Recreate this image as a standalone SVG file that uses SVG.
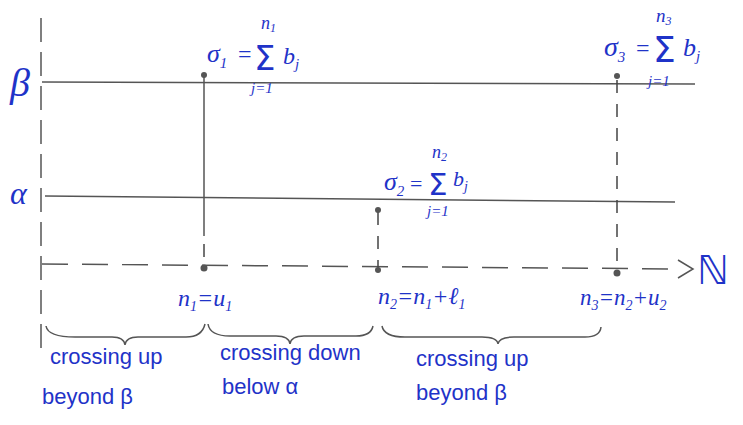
<svg xmlns="http://www.w3.org/2000/svg" width="743" height="425" viewBox="0 0 743 425">
<style>
.ink{fill:#1f33c8;font-family:"Liberation Serif","DejaVu Serif",serif;font-style:italic}
.sig{fill:#1f33c8;font-family:"DejaVu Sans",sans-serif;font-style:normal}
.txt{fill:#1f33c8;font-family:"Liberation Sans","DejaVu Sans",sans-serif;font-size:22px}
.ln{stroke:#555;stroke-width:1.5;fill:none}
.dash{stroke:#444;stroke-width:1.5;fill:none;stroke-dasharray:13 11}
.brace{stroke:#555;stroke-width:1.5;fill:none}
.dot{fill:#555}
</style>
<rect width="743" height="425" fill="#fff"/>
<g id="connectors">
  <line class="ln" x1="41" y1="18" x2="41" y2="355" stroke-dasharray="24 10"/>
  <line class="ln" x1="42" y1="82" x2="695" y2="84"/>
  <line class="ln" x1="45" y1="196" x2="675" y2="202"/>
  <line class="ln" x1="42" y1="264" x2="682" y2="269" stroke-dasharray="26 14"/>
  <polyline class="ln" points="678,260 693,269 678,278"/>
  <line class="ln" x1="204" y1="75" x2="204" y2="236"/>
  <line class="dash" x1="204" y1="244" x2="204" y2="268"/>
  <line class="dash" x1="378" y1="212" x2="378" y2="270"/>
  <line class="dash" x1="617" y1="80" x2="617" y2="273"/>
  <path class="brace" d="M46,326 Q48,338 80,337 L112,337 Q124,337 125,345 Q126,337 138,337 L186,337 Q202,337 205,324"/>
  <path class="brace" d="M208,324 Q210,336 230,336 L276,336 Q289,336 290,344 Q291,336 304,336 L356,336 Q371,336 373,326"/>
  <path class="brace" d="M382,326 Q384,337 405,337 L482,337 Q497,337 498,344 Q499,337 514,337 L585,337 Q600,337 601,327"/>
</g>
<g id="pts">
  <circle class="dot" cx="204" cy="75" r="3"/>
  <circle class="dot" cx="204" cy="268" r="3.5"/>
  <circle class="dot" cx="378" cy="210" r="3"/>
  <circle class="dot" cx="378" cy="270" r="3"/>
  <circle class="dot" cx="617" cy="76" r="3"/>
  <circle class="dot" cx="617" cy="273" r="3.5"/>
</g>
<g id="beta-label"><text class="ink" x="10" y="96" font-size="40">β</text></g>
<g id="alpha-label"><text class="ink" x="10" y="204" font-size="32">α</text></g>
<g id="N-label"><text x="697" y="284" font-size="40" fill="#1f33c8" font-family="DejaVu Sans,sans-serif">ℕ</text></g>
<g id="sigma1" class="ink">
  <text x="207" y="62" font-size="26">σ<tspan font-size="15" dy="6">1</tspan></text>
  <text x="238" y="62" font-size="24" font-style="normal">=</text>
  <text class="sig" x="254" y="70" font-size="34">Σ</text>
  <text x="261" y="29" font-size="18">n<tspan font-size="12" dy="3">1</tspan></text>
  <text x="283" y="64" font-size="24">b<tspan font-size="15" dy="5">j</tspan></text>
  <text x="251" y="93" font-size="15">j=1</text>
</g>
<g id="sigma2" class="ink">
  <text x="384" y="190" font-size="26">σ<tspan font-size="15" dy="6">2</tspan></text>
  <text x="410" y="191" font-size="22" font-style="normal">=</text>
  <text class="sig" x="428" y="195" font-size="31">Σ</text>
  <text x="432" y="158" font-size="18">n<tspan font-size="12" dy="3">2</tspan></text>
  <text x="453" y="186" font-size="22">b<tspan font-size="14" dy="5">j</tspan></text>
  <text x="427" y="216" font-size="15">j=1</text>
</g>
<g id="sigma3" class="ink">
  <text x="604" y="56" font-size="28">σ<tspan font-size="15" dy="6">3</tspan></text>
  <text x="636" y="56" font-size="24" font-style="normal">=</text>
  <text class="sig" x="653" y="62" font-size="36">Σ</text>
  <text x="656" y="22" font-size="19">n<tspan font-size="12" dy="3">3</tspan></text>
  <text x="683" y="56" font-size="26">b<tspan font-size="15" dy="5">j</tspan></text>
  <text x="648" y="86" font-size="15">j=1</text>
</g>
<g id="n1" class="ink"><text x="178" y="306" font-size="24">n<tspan font-size="14" dy="5">1</tspan><tspan dy="-5">=u</tspan><tspan font-size="14" dy="5">1</tspan></text></g>
<g id="n2" class="ink"><text x="378" y="304" font-size="24">n<tspan font-size="14" dy="5">2</tspan><tspan dy="-5">=n</tspan><tspan font-size="14" dy="5">1</tspan><tspan dy="-5">+ℓ</tspan><tspan font-size="14" dy="5">1</tspan></text></g>
<g id="n3" class="ink"><text x="580" y="305" font-size="23">n<tspan font-size="14" dy="5">3</tspan><tspan dy="-5">=n</tspan><tspan font-size="14" dy="5">2</tspan><tspan dy="-5">+u</tspan><tspan font-size="14" dy="5">2</tspan></text></g>
<g id="lab1"><text class="txt" x="50" y="364">crossing up</text><text class="txt" x="42" y="404">beyond β</text></g>
<g id="lab2"><text class="txt" x="220" y="360">crossing down</text><text class="txt" x="222" y="394">below α</text></g>
<g id="lab3"><text class="txt" x="416" y="366">crossing up</text><text class="txt" x="416" y="400">beyond β</text></g>
</svg>
